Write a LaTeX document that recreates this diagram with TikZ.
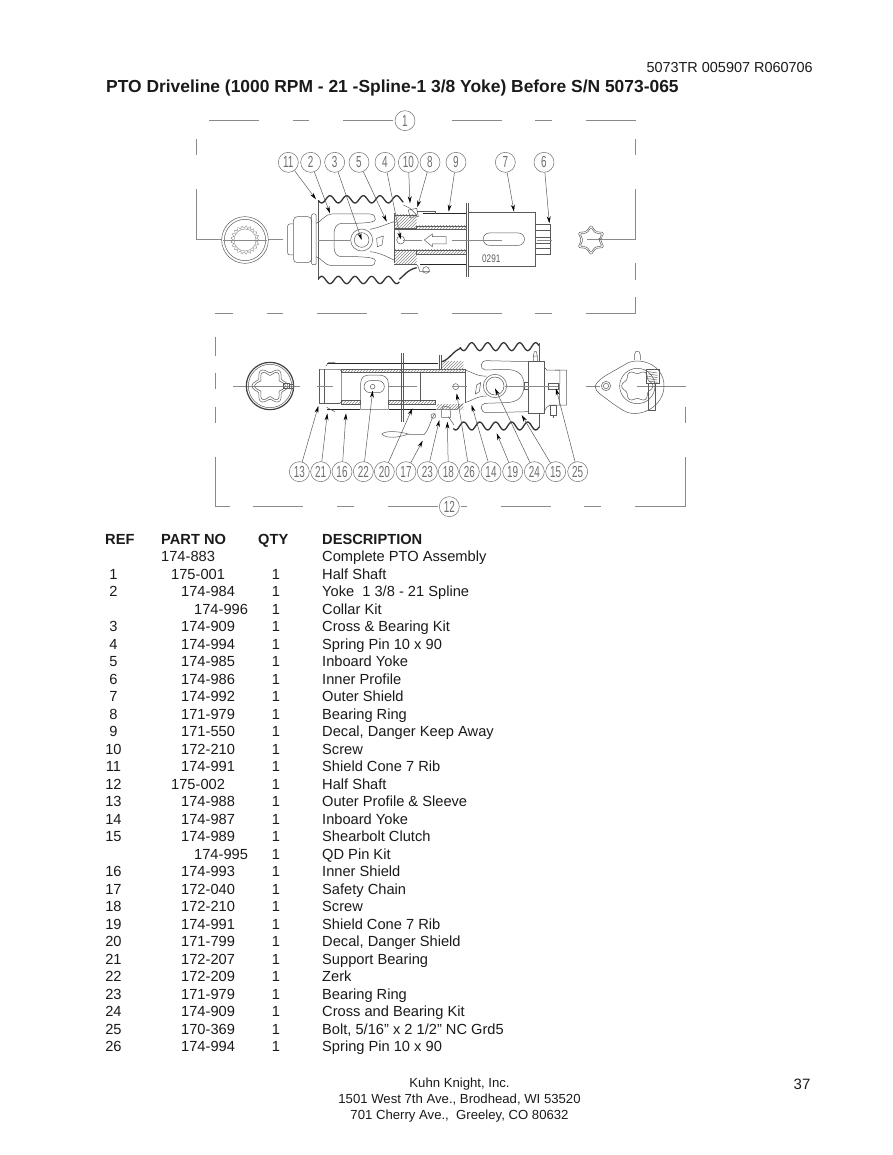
\documentclass[tikz,border=0pt]{standalone}
\usepackage{fontspec}
\usepackage{graphicx}
\setmainfont{Liberation Sans}
\usetikzlibrary{arrows.meta,patterns}
\definecolor{lk}{HTML}{5A5A5A}
\definecolor{fr}{HTML}{8A8A8A}
\definecolor{bl}{HTML}{6E6E6E}
\definecolor{tx}{HTML}{1A1A1A}
\newcommand{\nar}[1]{\scalebox{.62}[1]{#1}}
\tikzset{
  ball/.style={circle,draw=bl,line width=.5pt,minimum size=20pt,inner sep=0pt,font=\fontsize{16}{16}\selectfont,text=bl,fill=white},
  lead/.style={draw=lk,line width=.5pt,-{Stealth[length=7pt,width=3.8pt,black]}},
  fram/.style={draw=fr,line width=.8pt},
  pl/.style={draw=lk,line width=.5pt},
  thin part/.style={draw=fr,line width=.4pt},
  wav/.style={draw=black!80,line width=1.3pt,line join=round},
  shld/.style={draw=black!85,line width=1.5pt},
  cen/.style={draw=fr,line width=.5pt},
  hat/.style={draw=lk,line width=.4pt,pattern=north east lines,pattern color=fr},
  lab/.style={inner sep=0pt,text=tx,font=\fontsize{14.65}{14.65}\selectfont},
  hd/.style={lab,font=\fontsize{14.65}{14.65}\selectfont\bfseries},
  foot/.style={inner sep=0pt,anchor=base,text=tx,font=\fontsize{13.15}{13.15}\selectfont},
}
\begin{document}
\begin{tikzpicture}[x=1pt,y=-1pt]
\useasboundingbox (0,0) rectangle (892,1155);
% ---- page heads
\node[lab,anchor=base east,font=\fontsize{14.45}{14.45}\selectfont] (code) at (813,73) {5073TR 005907 R060706};
\node[inner sep=0pt,anchor=base west,text=tx,font=\fontsize{17.42}{17.42}\selectfont\bfseries] (title) at (106,93) {PTO Driveline (1000 RPM - 21 -Spline-1 3/8 Yoke) Before S/N 5073-065};
% ---- upper view
\begin{scope}[shift={(190,100)},x=0.33333pt,y=-0.33333pt]
 \foreach \a/\b in {57/207,308/358,460/610,785/935,1036/1086,1187/1337}
   \draw[fram] (\a,62) -- (\b,62);
 \foreach \a/\b in {75/128,230/280,381/532,632/683,785/935,1036/1086,1187/1337}
   \draw[fram] (\a,640) -- (\b,640);
 \foreach \a/\b in {118/165,490/540}
   \draw[fram] (1337,\a) -- (1337,\b);
 \draw[fram] (1337,640) -- (1337,590);
 \draw[fram] (20,118) -- (20,165);
 \draw[fram] (1337,268) -- (1337,418) -- (1190,418);
 \draw[fram] (20,268) -- (20,418) -- (280,418);
 % left ring
 \draw[pl,fill=white] (165,420) circle (70) (165,420) circle (62);
 \draw[thin part,smooth] plot[domain=0:360,samples=85] ({165+(39+4*cos(21*\x))*cos(\x)},{420+(39+4*cos(21*\x))*sin(\x)});
 \draw[thin part] (165,420) circle (33);
 \draw[cen] (100,420) -- (230,420);
 % yoke end
 \draw[pl,rounded corners=2pt] (310,372) -- (293,372) -- (293,465) -- (310,465);
 \draw[pl,rounded corners=4pt] (310,350) rectangle (365,488);
 \draw[pl,rounded corners=1pt] (365,342) rectangle (378,494);
 \draw[pl] (378,370) .. controls (395,365) and (405,342) .. (425,342) -- (540,342) .. controls (552,342) and (556,350) .. (556,358) .. controls (556,366) and (540,368) .. (500,370) -- (455,370) .. controls (440,370) and (432,385) .. (432,400) -- (432,440) .. controls (432,458) and (440,470) .. (455,470) -- (500,470) .. controls (540,472) and (556,474) .. (556,482) .. controls (556,490) and (552,497) .. (540,497) -- (425,497) .. controls (405,497) and (395,475) .. (378,470);
 \draw[pl] (612,365) .. controls (590,372) and (570,382) .. (540,388);
 \draw[pl] (612,480) .. controls (590,470) and (570,458) .. (540,455);
 \draw[pl,fill=white] (515,420) circle (33) (515,420) circle (22);
 \draw[pl] (560,415) -- (580,408) -- (576,435) -- (562,440) -- cycle;
 % shield cone
 \draw[pl] (385,300) -- (385,540);
 \draw[wav,smooth] plot[domain=385:640,samples=70] (\x,{298+11*cos((\x-395)*7.2)});
 \draw[wav,smooth] plot[domain=385:628,samples=70] (\x,{540-11*cos((\x-395)*7.2)});
 \draw[wav] (628,538) .. controls (640,530) and (650,510) .. (680,503);
 \draw[pl] (640,315) -- (660,325) -- (680,345);
 % collar
 \foreach \y/\z in {345/385,450/492}
   \fill[pattern=north east lines,pattern color=fr] (612,\y) rectangle (680,\z);
 \draw[pl] (612,340) -- (612,490);
 \draw[pl] (612,345) -- (680,345) (612,385) -- (680,385) (612,450) -- (680,450) (612,492) -- (680,492);
 \draw[hat] (680,378) rectangle (830,388);
 \draw[hat] (680,450) rectangle (830,462);
 \draw[pl] (632,420) circle (12);
 \draw[pl] (612,388) -- (830,388) (612,450) -- (830,450);
 \draw[shld] (700,341) -- (830,341);
 \draw[shld] (690,493) -- (830,493);
 \draw[pl] (680,333) -- (735,333) -- (735,341);
 \draw[pl] (682,495) -- (690,515) -- (720,515);
 \draw[pl] (708,510) circle (10);
 \draw[pl] (655,330) -- (680,325) -- (685,350) -- (660,352) -- cycle;
 \draw[pl] (830,308) -- (830,530) (836,308) -- (836,530);
 % outer shield
 \draw[pl] (836,338) rectangle (1035,498);
 \draw[pl] (898,399) -- (985,399) arc (-90:90:18.5) -- (898,436) arc (90:270:18.5) -- cycle;
 \draw[pl] (1035,372) -- (1080,372) -- (1080,462) -- (1035,462);
 \draw[pl] (1035,392) -- (1080,392) (1035,413) -- (1080,413) (1035,430) -- (1080,430) (1035,445) -- (1080,445);
 \draw[pl] (703,420) -- (727,402) -- (727,410) -- (768,410) -- (768,432) -- (727,432) -- (727,440) -- cycle;
 \draw[cen] (385,420) -- (480,420) (640,420) -- (695,420) (785,420) -- (935,420) (1040,420) -- (1085,420);
 \node[inner sep=0pt,text=lk,font=\fontsize{11}{11}\selectfont] (n0291) at (904,475) {\scalebox{.75}[1]{0291}};
 % hex star
 \draw[pl,rounded corners=1.5pt] plot[domain=0:360,samples=13] ({1203+(37-8*cos(6*\x))*cos(\x)},{420+(37-8*cos(6*\x))*sin(\x)}) -- cycle;
 \draw[pl,rounded corners=1.5pt] plot[domain=0:360,samples=13] ({1203+(31-7*cos(6*\x))*cos(\x)},{420+(31-7*cos(6*\x))*sin(\x)}) -- cycle;
 % balloons & leaders
 \foreach \n/\bx/\tx/\ty in {11/295/378/298,2/362/420/340,3/434/515/420,5/507/590/365,4/585/632/418,10/655/660/310,8/720/682/322,9/798/776/335,7/946/972/335,6/1062/1078/370}{
   \node[ball] (b\n) at (\bx,187) {\nar{\n}};
   \coordinate (t\n) at (\tx,\ty);
   \draw[lead] (b\n) -- (t\n);
 }
 \node[ball] (b1) at (645,62) {\nar{1}};
\end{scope}
% ---- lower view
\begin{scope}[shift={(200,320)},x=0.33333pt,y=-0.33333pt]
 \draw[fram] (45,50) -- (45,108);
 \draw[fram] (45,158) -- (45,208);
 \draw[fram] (45,260) -- (45,310);
 \draw[fram] (45,410) -- (45,560) -- (90,560);
 \foreach \a/\b in {160/310,412/462,563/713,783/800,902/1052,1153/1203}
   \draw[fram] (\a,560) -- (\b,560);
 \draw[fram] (1305,560) -- (1455,560) -- (1455,410);
 \draw[fram] (1455,310) -- (1455,260);
 \draw[cen] (100,198) -- (300,198) (1157,198) -- (1200,198) (1310,198) -- (1458,198);
 % left ring
 \draw[draw=black!75,line width=1.2pt] (210,198) circle (71);
 \draw[pl] (210,198) circle (65);
 \draw[pl,smooth] plot[domain=0:360,samples=73] ({210+(47+7*cos(6*\x))*cos(\x)},{198+(47+7*cos(6*\x))*sin(\x)});
 \draw[pl,smooth] plot[domain=0:360,samples=73] ({210+(39+7*cos(6*\x))*cos(\x)},{198+(39+7*cos(6*\x))*sin(\x)});
 \draw[pl] (250,190) rectangle (268,206) (268,192) rectangle (280,204);
 % tube
 \draw[pl] (357,148) -- (357,250) -- (420,250);
 \draw[pl] (357,148) -- (420,148) -- (425,155) -- (425,245) -- (420,250);
 \draw[pl] (372,148) -- (372,250);
 \draw[cen] (350,198) -- (400,198);
 \draw[hat] (425,148) rectangle (795,158);
 \draw[hat] (425,240) rectangle (482,252);
 \draw[hat] (565,240) rectangle (705,252);
 \draw[pl] (795,148) -- (795,250);
 \draw[shld] (382,130) -- (715,130);
 \draw[shld] (382,268) -- (480,268) (568,268) -- (708,268);
 \draw[pl] (378,138) -- (385,128) -- (405,128) (380,262) -- (405,275);
 \draw[pl] (482,268) -- (482,190) .. controls (482,170) and (495,165) .. (510,165) -- (535,165) .. controls (552,165) and (565,172) .. (565,190) -- (565,268) -- cycle;
 \draw[pl] (510,182) -- (535,182) arc (-90:90:18) -- (510,218) arc (90:270:18) -- cycle;
 \draw[pl] (518,200) circle (7);
 \draw[cen] (565,198) -- (650,198);
 \draw[pl] (660,155) -- (660,245);
 \draw[pl] (605,98) -- (605,305) (611,98) -- (611,305);
 \draw[pl] (767,200) circle (9);
 \draw[cen] (755,198) -- (800,198);
 % collar
 \fill[pattern=north east lines,pattern color=fr] (725,125) rectangle (790,148);
 \fill[pattern=north east lines,pattern color=fr] (710,252) rectangle (790,268);
 \draw[pl] (718,105) -- (718,148) (725,105) -- (725,148);
 \draw[pl] (710,268) -- (770,268) -- (790,250);
 \draw[pl] (725,270) -- (730,258) -- (750,262) -- (752,292) -- (725,292) -- cycle;
 % chain
 \draw[pl] (545,342) .. controls (560,330) and (600,335) .. (625,342) .. controls (600,352) and (560,358) .. (545,342);
 \draw[pl] (625,344) -- (672,344) .. controls (690,325) and (690,300) .. (705,280);
 \draw[pl] (700,288) circle (7);
 % bellows
 \draw[wav,smooth] plot[domain=780:1017,samples=70] (\x,{80-12*cos((\x-815)*7.5)});
 \draw[wav,smooth] plot[domain=760:1017,samples=70] (\x,{318+12*cos((\x-815)*7.5)});
 \draw[wav] (725,125) .. controls (745,122) and (760,92) .. (782,85);
 \draw[pl] (745,290) -- (762,315);
 \draw[pl] (1017,70) -- (1017,125) (1017,280) -- (1017,325);
 % yoke
 \draw[pl] (795,150) .. controls (815,155) and (830,170) .. (860,168);
 \draw[pl] (795,248) .. controls (815,243) and (830,228) .. (860,228);
 \draw[pl] (985,125) -- (860,122) .. controls (840,122) and (838,145) .. (855,150) -- (915,148) .. controls (955,148) and (972,165) .. (972,195) .. controls (972,230) and (955,248) .. (915,248) -- (855,250) .. controls (838,252) and (840,278) .. (860,278) -- (985,275);
 \draw[pl,fill=white] (885,198) circle (35) (885,198) circle (27);
 \draw[pl] (830,195) -- (842,188) -- (838,215) -- (826,222) -- cycle;
 % flange
 \draw[pl] (985,125) rectangle (1032,280);
 \draw[pl] (1000,125) -- (1000,108) (1012,125) -- (1012,108) (1000,108) -- (1003,95) -- (1009,95) -- (1012,108) -- cycle;
 \draw[pl] (972,188) rectangle (985,208);
 \draw[pl] (1032,140) -- (1040,150) -- (1100,150) -- (1100,255) -- (1050,255) -- (1040,262) -- (1032,275);
 \draw[pl] (1065,150) -- (1080,150) -- (1078,255);
 \draw[pl] (1052,255) rectangle (1070,285);
 \draw[pl] (1060,285) -- (1060,295);
 \draw[pl] (1046,190) rectangle (1075,208);
 \draw[cen] (915,198) -- (1075,198);
 % clutch end view
 \draw[pl] (1218,198) circle (14) (1218,198) circle (8);
 \draw[pl] (1185,198) .. controls (1190,185) and (1210,170) .. (1232,158) -- (1285,128) .. controls (1325,112) and (1392,135) .. (1392,198) .. controls (1392,250) and (1340,285) .. (1295,280) .. controls (1280,280) and (1260,265) .. (1240,252) -- (1200,222) .. controls (1192,216) and (1185,208) .. cycle;
 \draw[pl] (1312,198) circle (53);
 \draw[pl,smooth] plot[domain=0:360,samples=49] ({1312+(42+5*cos(6*\x))*cos(\x)},{198+(42+5*cos(6*\x))*sin(\x)});
 \draw[pl] (1303,120) -- (1303,105) -- (1307,95) -- (1317,95) -- (1321,105) -- (1321,120);
 \draw[pl] (1340,148) rectangle (1378,190);
 \foreach \y in {155,162,169,176,183}
   \draw[pl] (1345,\y) -- (1372,\y+4);
 \draw[pl] (1345,190) -- (1345,270) -- (1366,270) -- (1366,190);
 % balloons & leaders
 \foreach \n/\bx/\tx/\ty in {13/298/355/258,21/362/382/280,16/426/438/280,22/490/518/212,20/553/637/265,17/618/668/362,23/682/718/300,18/745/742/305,26/808/770/220,14/873/815/255,19/938/890/340,24/1003/885/205,15/1067/965/285,25/1133/1068/205}{
   \node[ball] (b\n) at (\bx,455) {\nar{\n}};
   \coordinate (t\n) at (\tx,\ty);
   \draw[lead] (b\n) -- (t\n);
 }
 \node[ball] (b12) at (748,560) {\nar{12}};
\end{scope}
% ---- table
\node[hd,anchor=base west] (hr) at (105,544) {REF};
\node[hd,anchor=base west] (hp) at (161,544) {PART NO};
\node[hd,anchor=base west] (hq) at (258,544) {QTY};
\node[hd,anchor=base west] (hd) at (322,544) {DESCRIPTION};
\foreach \r/\x/\p/\q/\d [count=\i] in {
 {}/161/174-883/{}/{Complete PTO Assembly},
 1/171/175-001/1/{Half Shaft},
 2/181/174-984/1/{Yoke\ \ 1 3/8 - 21 Spline},
 {}/194/174-996/1/{Collar Kit},
 3/181/174-909/1/{Cross \& Bearing Kit},
 4/181/174-994/1/{Spring Pin 10 x 90},
 5/181/174-985/1/{Inboard Yoke},
 6/181/174-986/1/{Inner Profile},
 7/181/174-992/1/{Outer Shield},
 8/181/171-979/1/{Bearing Ring},
 9/181/171-550/1/{Decal, Danger Keep Away},
 10/181/172-210/1/{Screw},
 11/181/174-991/1/{Shield Cone 7 Rib},
 12/171/175-002/1/{Half Shaft},
 13/181/174-988/1/{Outer Profile \& Sleeve},
 14/181/174-987/1/{Inboard Yoke},
 15/181/174-989/1/{Shearbolt Clutch},
 {}/194/174-995/1/{QD Pin Kit},
 16/181/174-993/1/{Inner Shield},
 17/181/172-040/1/{Safety Chain},
 18/181/172-210/1/{Screw},
 19/181/174-991/1/{Shield Cone 7 Rib},
 20/181/171-799/1/{Decal, Danger Shield},
 21/181/172-207/1/{Support Bearing},
 22/181/172-209/1/{Zerk},
 23/181/171-979/1/{Bearing Ring},
 24/181/174-909/1/{Cross and Bearing Kit},
 25/181/170-369/1/{Bolt, 5/16” x 2 1/2” NC Grd5},
 26/181/174-994/1/{Spring Pin 10 x 90}}{
  \pgfmathsetmacro{\yy}{544+17.5*\i}
  \ifx\r\empty\else\node[lab,anchor=base] (r\i) at (113.5,\yy) {\r};\fi
  \node[lab,anchor=base west] (p\i) at (\x,\yy) {\p};
  \ifx\q\empty\else\node[lab,anchor=base] (q\i) at (276,\yy) {\q};\fi
  \node[lab,anchor=base west] (d\i) at (322,\yy) {\d};
}
% ---- footer
\node[foot] (f1) at (459.5,1087) {Kuhn Knight, Inc.};
\node[foot] (f2) at (459.5,1103) {1501 West 7th Ave., Brodhead, WI 53520};
\node[foot] (f3) at (459.5,1119) {701 Cherry Ave.,\ \ Greeley, CO 80632};
\node[lab,anchor=base,font=\fontsize{15}{15}\selectfont] (pg) at (802,1089) {37};
\end{tikzpicture}
\end{document}
